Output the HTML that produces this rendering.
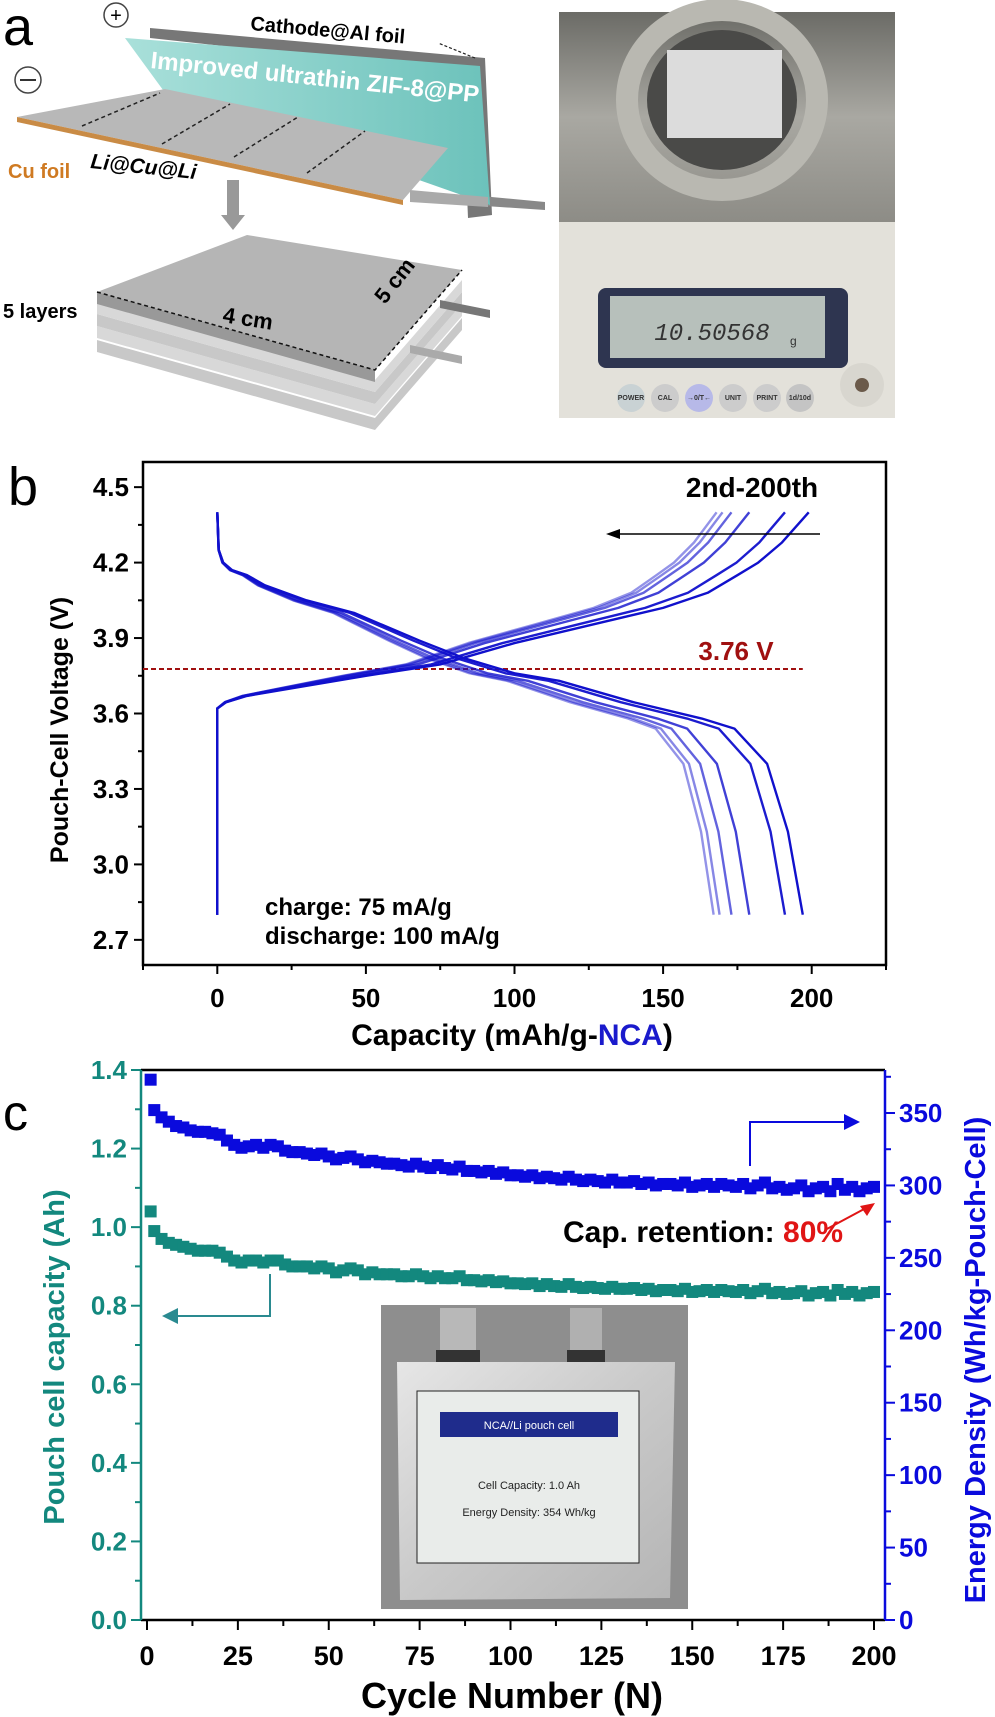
<!DOCTYPE html>
<html><head><meta charset="utf-8"><style>
body{margin:0;background:#fff}
svg{display:block}
.t{font-family:"Liberation Sans Narrow","Liberation Sans",sans-serif;font-weight:bold}
.w{font-family:"Liberation Sans",sans-serif;font-weight:bold}
</style></head><body>
<svg id="fig" width="995" height="1717" viewBox="0 0 995 1717" xmlns="http://www.w3.org/2000/svg">
<defs>
<linearGradient id="teal" x1="0" y1="0" x2="1" y2="0"><stop offset="0" stop-color="#a9e0da"/><stop offset="1" stop-color="#6cc2bb"/></linearGradient>
<linearGradient id="metal" x1="0" y1="0" x2="0" y2="1"><stop offset="0" stop-color="#6b6b66"/><stop offset="0.5" stop-color="#a9a8a2"/><stop offset="1" stop-color="#8d8c86"/></linearGradient>
<linearGradient id="foil" x1="0" y1="0" x2="1" y2="1"><stop offset="0" stop-color="#e6e6e6"/><stop offset="0.5" stop-color="#c9c9c9"/><stop offset="1" stop-color="#b5b5b5"/></linearGradient>
</defs>

<!-- Panel a -->
<g>
<text x="3" y="45" font-family="Liberation Sans,sans-serif" font-size="54">a</text>
<polygon points="150,28 485,58 492,215 468,218 462,72 150,38" fill="#777"/>
<polygon points="470,195 545,202 545,210 470,205" fill="#888"/>
<polygon points="125,38 480,66 490,205 163,90" fill="url(#teal)"/>
<text x="150" y="68" class="w" font-size="24" fill="#fff" transform="rotate(6 150 68)">Improved ultrathin ZIF-8@PP</text>
<polygon points="17,117 165,89 448,148 403,200" fill="#b8b8b8"/>
<polygon points="17,117 403,200 403,205 17,122" fill="#c98b45"/>
<polygon points="410,190 488,197 488,207 410,202" fill="#aaa"/>
<g stroke="#222" stroke-width="1.5" stroke-dasharray="4,3">
<line x1="82" y1="126" x2="160" y2="93"/><line x1="162" y1="144" x2="230" y2="104"/><line x1="234" y1="157" x2="298" y2="117"/><line x1="307" y1="173" x2="365" y2="131"/>
</g>
<text x="250" y="30" class="w" font-size="20" transform="rotate(5 250 30)">Cathode@Al foil</text>
<line x1="475" y1="58" x2="438" y2="43" stroke="#222" stroke-width="1.2" stroke-dasharray="3,2"/>
<circle cx="116" cy="15" r="12" fill="#fff" stroke="#444" stroke-width="1.5"/><text x="116" y="22" text-anchor="middle" font-family="Liberation Sans" font-size="20">+</text>
<circle cx="28" cy="80" r="13" fill="#fff" stroke="#444" stroke-width="1.5"/><line x1="20" y1="80" x2="36" y2="80" stroke="#333" stroke-width="2"/>
<text x="8" y="178" class="w" font-size="20" fill="#cf7a22">Cu foil</text>
<text x="90" y="168" class="w" font-size="21" font-style="italic" transform="rotate(6 90 168)">Li@Cu@Li</text>
<polygon points="227,180 239,180 239,215 245,215 233,230 221,215 227,215" fill="#999"/>
<g>
<polygon points="97,340 375,418 462,318 462,330 375,430 97,352" fill="#c8c8c8"/>
<polygon points="97,326 375,404 462,304 462,316 375,416 97,338" fill="#d8d8d8"/>
<polygon points="97,314 375,392 462,292 462,304 375,404 97,326" fill="#c8c8c8"/>
<polygon points="97,302 375,380 462,280 462,292 375,392 97,314" fill="#d8d8d8"/>
<polygon points="97,292 247,235 462,270 375,370" fill="#b5b5b5"/>
<polygon points="97,292 375,370 375,382 97,304" fill="#999"/>
<polygon points="440,300 490,310 490,318 440,308" fill="#777"/>
<polygon points="410,345 462,356 462,364 410,353" fill="#aaa"/>
<polyline points="97,292 375,370 462,270" fill="none" stroke="#111" stroke-width="1.5" stroke-dasharray="4,3"/>
</g>
<text x="3" y="318" class="w" font-size="20">5 layers</text>
<text x="222" y="322" class="w" font-size="22" transform="rotate(9 222 322)">4 cm</text>
<text x="385" y="305" class="w" font-size="22" transform="rotate(-52 385 305)">5 cm</text>
</g>

<!-- balance photo -->
<g>
<rect x="559" y="12" width="336" height="406" fill="#8c8b86"/>
<rect x="559" y="12" width="336" height="210" fill="url(#metal)"/>
<ellipse cx="722" cy="100" rx="95" ry="90" fill="none" stroke="#b9b8b1" stroke-width="22"/>
<ellipse cx="722" cy="100" rx="75" ry="70" fill="#4a4a48"/>
<rect x="667" y="50" width="115" height="88" fill="#dcdcdc"/>
<rect x="559" y="222" width="336" height="196" fill="#e3e1da"/>
<rect x="598" y="288" width="250" height="80" rx="8" fill="#2e3550"/>
<rect x="610" y="296" width="215" height="62" fill="#b7c0bb"/>
<text x="712" y="340" text-anchor="middle" font-family="Liberation Mono,monospace" font-size="24" fill="#333" font-style="italic">10.50568</text>
<text x="790" y="345" font-family="Liberation Sans" font-size="12" fill="#333">g</text>
<g font-family="Liberation Sans" font-size="7" font-weight="bold" fill="#333" text-anchor="middle">
<ellipse cx="631" cy="398" rx="14" ry="14" fill="#c9d2d4"/><text x="631" y="400">POWER</text>
<ellipse cx="665" cy="398" rx="14" ry="14" fill="#ccc"/><text x="665" y="400">CAL</text>
<ellipse cx="699" cy="398" rx="14" ry="14" fill="#b7b9e8"/><text x="699" y="400">→0/T←</text>
<ellipse cx="733" cy="398" rx="14" ry="14" fill="#ccc"/><text x="733" y="400">UNIT</text>
<ellipse cx="767" cy="398" rx="14" ry="14" fill="#ccc"/><text x="767" y="400">PRINT</text>
<ellipse cx="800" cy="398" rx="14" ry="14" fill="#c4c4c4"/><text x="800" y="400">1d/10d</text>
</g>
<circle cx="862" cy="385" r="22" fill="#d8d6cf"/><circle cx="862" cy="385" r="7" fill="#6b5a4a"/>
</g>

<!-- Panel b -->
<g id="panelB">
<text x="8" y="505" font-family="Liberation Sans,sans-serif" font-size="54">b</text>
</g>
<!-- Panel c -->
<g id="panelC">
<text x="3" y="1130" font-family="Liberation Sans,sans-serif" font-size="50">c</text>
</g>
</svg>
<script>
const NS="http://www.w3.org/2000/svg";
// ---- Panel b data ----
const chargeCap=[0,0,3,10,25,50,75,100,125,150,165,175,182,190,199];
const chargeV=[2.8,3.62,3.645,3.67,3.7,3.75,3.795,3.88,3.95,4.02,4.08,4.15,4.2,4.28,4.4];
const dischargeCap=[0,0.5,2,5,10,16,30,46,68,83,100,115,140,163,174,185,192,197];
const dischargeV=[4.4,4.25,4.2,4.17,4.15,4.11,4.05,4.0,3.89,3.82,3.76,3.73,3.645,3.58,3.54,3.4,3.13,2.8];
const chargeEnds=[199,191,179,173,170,168];
const dischargeEnds=[197,191,179,173,169,167];
const bXTicks=[0,50,100,150,200];
const bYTicks=[2.7,3.0,3.3,3.6,3.9,4.2,4.5];
const refVoltage=3.777;
// ---- Panel c data ----
const cycles1=[1];
const energy1=[373];
const cap1=[1.04];
const energy=[352,347,344,341,340,338,337,337,336,335,331,328,326,327,328,326,328,327,324,323,323,322,321,322,320,318,319,320,318,316,317,316,315,315,314,313,315,313,312,314,312,311,313,310,310,309,310,308,309,307,307,306,307,305,306,305,304,306,304,303,304,303,302,304,302,302,303,301,302,300,301,301,300,302,299,300,301,299,301,300,299,301,298,300,302,298,299,297,298,300,296,298,299,296,301,297,299,296,298,299];
const capacity=[0.99,0.97,0.96,0.955,0.95,0.945,0.94,0.94,0.94,0.935,0.925,0.915,0.91,0.915,0.915,0.91,0.915,0.915,0.905,0.90,0.90,0.90,0.895,0.90,0.895,0.885,0.89,0.895,0.89,0.88,0.885,0.88,0.88,0.88,0.875,0.875,0.88,0.875,0.87,0.875,0.87,0.87,0.875,0.865,0.865,0.862,0.865,0.86,0.862,0.857,0.857,0.855,0.857,0.85,0.855,0.85,0.848,0.855,0.848,0.845,0.848,0.845,0.843,0.848,0.843,0.843,0.845,0.84,0.843,0.837,0.84,0.84,0.837,0.843,0.835,0.837,0.84,0.835,0.84,0.837,0.835,0.84,0.832,0.837,0.843,0.832,0.835,0.83,0.832,0.837,0.826,0.832,0.835,0.826,0.84,0.83,0.835,0.826,0.832,0.835];
const cXTicks=[0,25,50,75,100,125,150,175,200];
const cLeftTicks=[0.0,0.2,0.4,0.6,0.8,1.0,1.2,1.4];
const cRightTicks=[0,50,100,150,200,250,300,350];

function el(tag,attrs,parent){const e=document.createElementNS(NS,tag);for(const k in attrs)e.setAttribute(k,attrs[k]);parent.appendChild(e);return e;}
function txt(s,attrs,parent){const e=el('text',attrs,parent);e.textContent=s;return e;}

// ===== Panel b =====
(function(){
const g=document.getElementById('panelB');
const L=143,R=886,T=462,B=965,x0=-25,x1=225,y0=2.6,y1=4.6;
const sx=v=>L+(v-x0)/(x1-x0)*(R-L);
const sy=v=>B-(v-y0)/(y1-y0)*(B-T);
const box=el('rect',{x:L,y:T,width:R-L,height:B-T,fill:'none',stroke:'#000','stroke-width':2.5},g);


for(let v=2.7;v<=4.56;v+=0.15){const y=sy(v);const major=Math.abs(((v-2.7)/0.3)-Math.round((v-2.7)/0.3))<0.01;el('line',{x1:L-(major?9:5),y1:y,x2:L,y2:y,stroke:'#000','stroke-width':2},g);}
bYTicks.forEach(v=>{const t=txt(v.toFixed(1),{x:L-14,y:sy(v)+9,'text-anchor':'end',class:'t','font-size':26},g);

});
for(let v=-25;v<=225;v+=25){const major=v%50===0;el('line',{x1:sx(v),y1:B,x2:sx(v),y2:B+(major?9:5),stroke:'#000','stroke-width':2},g);}
bXTicks.forEach(v=>{const t=txt(String(v),{x:sx(v),y:1007,'text-anchor':'middle',class:'t','font-size':26},g);

});
const xt=txt('Capacity (mAh/g-',{x:512,y:1045,'text-anchor':'middle',class:'t','font-size':30},g);
const sp=el('tspan',{fill:'#1a1acc'},xt);sp.textContent='NCA';
const sp2=el('tspan',{},xt);sp2.textContent=')';


const yt=txt('Pouch-Cell Voltage (V)',{x:0,y:0,'text-anchor':'middle',class:'w','font-size':25,transform:'translate(68,730) rotate(-90)'},g);


const rl=el('line',{x1:L,y1:sy(refVoltage),x2:sx(197),y2:sy(refVoltage),stroke:'#a01010','stroke-width':2,'stroke-dasharray':'5,3'},g);


const rt=txt('3.76 V',{x:736,y:660,'text-anchor':'middle',class:'t','font-size':26,fill:'#a01010'},g);


const opac=[1,0.95,0.8,0.65,0.5,0.45];
for(let i=chargeEnds.length-1;i>=0;i--){
 const fc=chargeEnds[i]/chargeEnds[0],fd=dischargeEnds[i]/dischargeEnds[0];
 const pc=chargeCap.map((c,k)=>sx(c*fc)+','+sy(chargeV[k])).join(' ');
 const pd=dischargeCap.map((c,k)=>sx(c*fd)+','+sy(dischargeV[k])).join(' ');
 const a=el('polyline',{points:pc,fill:'none',stroke:'#1010cc','stroke-width':2.4,'stroke-opacity':opac[i],'stroke-linejoin':'round'},g);
 
 
 const d=el('polyline',{points:pd,fill:'none',stroke:'#1010cc','stroke-width':2.4,'stroke-opacity':opac[i],'stroke-linejoin':'round'},g);
 
 
}
const lt=txt('2nd-200th',{x:752,y:497,'text-anchor':'middle',class:'t','font-size':28},g);


el('line',{x1:820,y1:534,x2:615,y2:534,stroke:'#000','stroke-width':1.5},g);
el('polygon',{points:'606,534 620,529 620,539',fill:'#000'},g);
const c1=txt('charge: 75 mA/g',{x:265,y:915,class:'t','font-size':24},g);


const c2=txt('discharge: 100 mA/g',{x:265,y:944,class:'t','font-size':24},g);


})();

// ===== Panel c =====
(function(){
const g=document.getElementById('panelC');
const L=141,R=885,T=1070,B=1620;
const sx=v=>147+(v/200)*(874-147);
const syL=v=>B-(v/1.4)*(B-T);
const syR=v=>B-(v/350)*(B-1113);
const teal='#13887e',blue='#0a0add';
el('line',{x1:L,y1:T,x2:R,y2:T,stroke:'#000','stroke-width':2.5},g);
el('line',{x1:L,y1:B,x2:R,y2:B,stroke:'#000','stroke-width':2.5},g);
el('line',{x1:L,y1:T,x2:L,y2:B,stroke:teal,'stroke-width':2.5},g);
el('line',{x1:R,y1:T,x2:R,y2:B,stroke:blue,'stroke-width':2.5},g);
for(let v=0;v<=1.4001;v+=0.1){const maj=Math.round(v*10)%2===0;el('line',{x1:L-(maj?10:6),y1:syL(v),x2:L,y2:syL(v),stroke:teal,'stroke-width':2},g);}
cLeftTicks.forEach(v=>{const t=txt(v.toFixed(1),{x:L-14,y:syL(v)+9,'text-anchor':'end',class:'t','font-size':26,fill:teal},g);

});
for(let v=0;v<=375;v+=25){const maj=v%50===0;el('line',{x1:R,y1:syR(v),x2:R+(maj?10:6),y2:syR(v),stroke:blue,'stroke-width':2},g);}
cRightTicks.forEach(v=>{const t=txt(String(v),{x:R+14,y:syR(v)+9,class:'t','font-size':26,fill:blue},g);

});
for(let v=0;v<=200;v+=12.5){const maj=v%25===0;el('line',{x1:sx(v),y1:B,x2:sx(v),y2:B+(maj?10:6),stroke:'#000','stroke-width':2},g);}
cXTicks.forEach(v=>{const t=txt(String(v),{x:sx(v),y:1665,'text-anchor':'middle',class:'t','font-size':27},g);

});
const xt=txt('Cycle Number (N)',{x:512,y:1708,'text-anchor':'middle',class:'t','font-size':36},g);


const ly=txt('Pouch cell capacity (Ah)',{x:0,y:0,'text-anchor':'middle',class:'w','font-size':29,fill:teal,transform:'translate(64,1357) rotate(-90)'},g);


const ry=txt('Energy Density (Wh/kg-Pouch-Cell)',{x:0,y:0,'text-anchor':'middle',class:'w','font-size':29,fill:blue,transform:'translate(985,1360) rotate(-90)'},g);


const ph=el('g',{},g);


el('rect',{x:381,y:1305,width:307,height:304,fill:'#8e8e8e'},ph);
el('rect',{x:440,y:1308,width:36,height:62,fill:'#b8b8b8'},ph);
el('rect',{x:570,y:1308,width:32,height:62,fill:'#b0b0b0'},ph);
el('rect',{x:436,y:1350,width:44,height:14,fill:'#333'},ph);
el('rect',{x:567,y:1350,width:38,height:14,fill:'#333'},ph);
el('polygon',{points:'397,1362 675,1362 670,1598 400,1600',fill:'url(#foil)'},ph);
el('rect',{x:417,y:1391,width:222,height:172,fill:'#e9ecea',stroke:'#222','stroke-width':1},ph);
el('rect',{x:440,y:1412,width:178,height:25,fill:'#1f2c8c'},ph);
txt('NCA//Li pouch cell',{x:529,y:1429,'text-anchor':'middle','font-family':'Liberation Sans Narrow,Liberation Sans,sans-serif','font-size':11,fill:'#fff'},ph);
txt('Cell Capacity: 1.0 Ah',{x:529,y:1489,'text-anchor':'middle','font-family':'Liberation Sans Narrow,Liberation Sans,sans-serif','font-size':11,fill:'#222'},ph);
txt('Energy Density: 354 Wh/kg',{x:529,y:1516,'text-anchor':'middle','font-family':'Liberation Sans Narrow,Liberation Sans,sans-serif','font-size':11,fill:'#222'},ph);
const S=12;
function sq(x,y,c,name){const r=el('rect',{x:x-S/2,y:y-S/2,width:S,height:S,fill:c},g);

}
cycles1.forEach((c,i)=>{sq(sx(c),syR(energy1[i]),blue,'energy-density-point');sq(sx(c),syL(cap1[i]),teal,'capacity-point');});
energy.forEach((v,i)=>sq(sx(2+2*i),syR(v),blue,'energy-density-point'));
capacity.forEach((v,i)=>sq(sx(2+2*i),syL(v),teal,'capacity-point'));
el('polyline',{points:'750,1166 750,1122 850,1122',fill:'none',stroke:blue,'stroke-width':2},g);
el('polygon',{points:'860,1122 844,1114 844,1130',fill:blue},g);
el('polyline',{points:'270,1274 270,1316 172,1316',fill:'none',stroke:'#2a8a90','stroke-width':2},g);
el('polygon',{points:'162,1316 178,1308 178,1324',fill:'#2a8a90'},g);
const cr=txt('Cap. retention: ',{x:563,y:1242,class:'t','font-size':30},g);
const pc=el('tspan',{fill:'#e01515'},cr);pc.textContent='80%';


el('line',{x1:825,y1:1230,x2:866,y2:1208,stroke:'#e01515','stroke-width':2},g);
el('polygon',{points:'875,1203 860,1206 867,1216',fill:'#e01515'},g);
})();
</script>
</body></html>
